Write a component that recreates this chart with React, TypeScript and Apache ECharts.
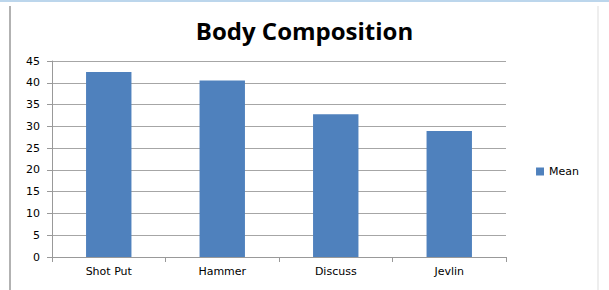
import React, { useEffect, useRef } from "react";
import * as echarts from "echarts";

const categories = ["Shot Put", "Hammer", "Discuss", "Jevlin"];
const meanValues = [42.5, 40.5, 32.8, 28.9];
const seriesName = "Mean";
const titleText = "Body Composition";

export default function App() {
  const ref = useRef<HTMLDivElement>(null);
  useEffect(() => {
    if (!ref.current) return;
    const chart = echarts.init(ref.current, null, { renderer: "svg" });
    const labelFont = { fontFamily: "DejaVu Sans", fontSize: 11, color: "#000" };
    chart.setOption({
      animation: false,
      backgroundColor: "#ffffff",
      title: {
        text: titleText,
        left: "center",
        top: 13,
        textStyle: { fontFamily: "Open Sans", fontWeight: "bold", fontSize: 24, color: "#000" },
      },
      legend: {
        data: [seriesName],
        right: 25,
        top: 161,
        icon: "rect",
        itemWidth: 8,
        itemHeight: 8,
        itemGap: 4,
        textStyle: labelFont,
      },
      grid: { left: 52, right: 103, top: 61, bottom: 33, containLabel: false },
      xAxis: {
        type: "category",
        data: categories,
        axisLine: { lineStyle: { color: "#999" } },
        axisTick: { show: true, length: 5, lineStyle: { color: "#999" } },
        axisLabel: { ...labelFont, margin: 9 },
      },
      yAxis: {
        type: "value",
        min: 0,
        max: 45,
        interval: 5,
        axisLine: { show: true, lineStyle: { color: "#999" } },
        axisTick: { show: true, length: 5, lineStyle: { color: "#999" } },
        splitLine: { lineStyle: { color: "#a6a6a6" } },
        axisLabel: { ...labelFont, margin: 12 },
      },
      series: [
        {
          name: seriesName,
          type: "bar",
          data: meanValues,
          barWidth: "40%",
          itemStyle: { color: "#4f81bd" },
        },
      ],
      graphic: [
        { type: "rect", shape: { x: 0, y: 0, width: 609, height: 2 }, style: { fill: "#bcd6ec" } },
        { type: "line", shape: { x1: 10, y1: 6, x2: 10, y2: 290 }, style: { stroke: "#999", lineWidth: 1.5 } },
        { type: "line", shape: { x1: 598, y1: 6, x2: 598, y2: 290 }, style: { stroke: "#ddd", lineWidth: 1 } },
      ],
    });
    return () => chart.dispose();
  }, []);
  return <div ref={ref} style={{ width: 609, height: 290, position: "absolute", left: 0, top: 0 }} />;
}
